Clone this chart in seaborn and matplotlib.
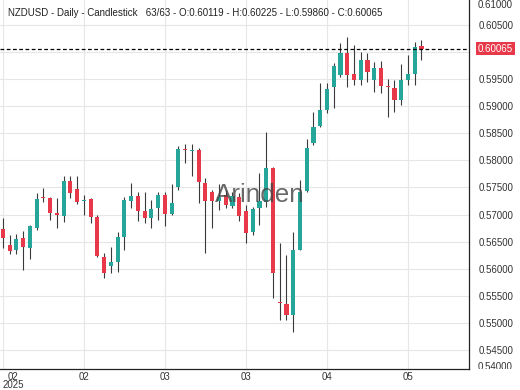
import numpy as np
import pandas as pd
import seaborn as sns
import matplotlib.pyplot as plt
from matplotlib.transforms import Bbox, TransformedBbox, ScaledTranslation

# OHLC values (63 daily candles)
opens = [0.56728, 0.56438, 0.56346, 0.56562, 0.56377, 0.56747, 0.57319, 0.57300, 0.57035, 0.56979,
         0.57625, 0.57467, 0.57251, 0.57282, 0.56961, 0.56222, 0.56051, 0.56119, 0.56592, 0.57256,
         0.57343, 0.57066, 0.56942, 0.57116, 0.57361, 0.57011, 0.57503, 0.58201, 0.58174, 0.58192,
         0.57583, 0.57422, 0.57251, 0.57361, 0.57158, 0.57330, 0.57066, 0.56684, 0.57116, 0.57238,
         0.57854, 0.55386, 0.55344, 0.55146, 0.56355, 0.57435, 0.58316, 0.58644, 0.58930, 0.59349,
         0.59577, 0.59988, 0.59589, 0.59484, 0.59853, 0.59484, 0.59700, 0.59368, 0.59342, 0.59115,
         0.59484, 0.59589, 0.60119]
highs = [0.56931, 0.56623, 0.56641, 0.56702, 0.56808, 0.57393, 0.57485, 0.57319, 0.57311, 0.57712,
         0.57712, 0.57712, 0.57361, 0.57300, 0.56992, 0.56291, 0.56396, 0.56673, 0.57330, 0.57577,
         0.57411, 0.57422, 0.57269, 0.57422, 0.57422, 0.57559, 0.58271, 0.58297, 0.58297, 0.58223,
         0.57670, 0.57454, 0.57559, 0.57454, 0.57422, 0.57393, 0.57177, 0.57145, 0.57762, 0.58530,
         0.57884, 0.56470, 0.56254, 0.56678, 0.57647, 0.58395, 0.58899, 0.59423, 0.59423, 0.59792,
         0.60173, 0.60272, 0.60130, 0.60007, 0.59988, 0.59822, 0.59840, 0.59497, 0.59484, 0.59774,
         0.59946, 0.60191, 0.60225]
lows = [0.56377, 0.56272, 0.56267, 0.55977, 0.56180, 0.56715, 0.57238, 0.56900, 0.56747, 0.56868,
        0.57300, 0.57195, 0.56992, 0.56839, 0.56211, 0.55835, 0.55916, 0.55934, 0.56346, 0.57127,
        0.56881, 0.56839, 0.56747, 0.56900, 0.56795, 0.57000, 0.57454, 0.57947, 0.57718, 0.57208,
        0.56285, 0.56758, 0.57084, 0.57116, 0.57116, 0.56881, 0.56470, 0.56623, 0.56808, 0.57145,
        0.55466, 0.55054, 0.55054, 0.54838, 0.56346, 0.57422, 0.58284, 0.58622, 0.58870, 0.58962,
        0.59545, 0.59349, 0.59392, 0.59392, 0.59453, 0.59268, 0.59239, 0.58796, 0.58899, 0.59023,
        0.59392, 0.59392, 0.59860]
closes = [0.56562, 0.56333, 0.56549, 0.56407, 0.56789, 0.57288, 0.57306, 0.57035, 0.56992, 0.57625,
          0.57393, 0.57238, 0.57278, 0.56950, 0.56235, 0.55916, 0.56119, 0.56592, 0.57269, 0.57343,
          0.57072, 0.56942, 0.57103, 0.57361, 0.57011, 0.57208, 0.58210, 0.58183, 0.58186, 0.57596,
          0.57251, 0.57251, 0.57330, 0.57177, 0.57348, 0.56979, 0.56665, 0.57097, 0.57251, 0.57854,
          0.55927, 0.55362, 0.55146, 0.56346, 0.57422, 0.58223, 0.58622, 0.58930, 0.59313, 0.59743,
          0.59988, 0.59577, 0.59484, 0.59853, 0.59626, 0.59700, 0.59373, 0.59355, 0.59115, 0.59484,
          0.59589, 0.60099, 0.60065]

x_tick_pos = [0, 12, 24, 36, 48, 60]
x_tick_labels = ["02\n2025", "02", "03", "03", "04", "05"]
y_ticks = [0.545, 0.550, 0.555, 0.560, 0.565, 0.570, 0.575, 0.580, 0.585, 0.590, 0.595, 0.600, 0.605]
last_price = 0.60065
title = "NZDUSD - Daily - Candlestick   63/63 - O:0.60119 - H:0.60225 - L:0.59860 - C:0.60065"

df = pd.DataFrame({"open": opens, "high": highs, "low": lows, "close": closes})
df["idx"] = np.arange(len(df))
up = df["close"] >= df["open"]

green = "#26a69a"
red = "#e8394b"

sns.set_theme(style="white")
plt.rcParams["font.family"] = ["Liberation Sans", "DejaVu Sans"]

fig = plt.figure(figsize=(5.2, 3.9), dpi=100)
ax = fig.add_axes([0, 21 / 390, 469 / 520, 369 / 390])

# wicks
ax.vlines(df["idx"], df["low"], df["high"], color="#3a3a3a", linewidth=0.8, zorder=2)
# bodies
body_bottom = df[["open", "close"]].min(axis=1)
body_h = (df["close"] - df["open"]).abs().clip(lower=0.00025)
colors = np.where(up, green, red)
ax.bar(df["idx"], body_h, bottom=body_bottom, width=0.6, color=colors, linewidth=0, zorder=3)

ax.axhline(last_price, color="black", linewidth=0.9, linestyle=(0, (3, 2)), zorder=4)

ax.set_xlim(-0.44, 69.04)
ax.set_ylim(0.54149, 0.60961)
ax.set_xticks(x_tick_pos)
ax.set_xticklabels(x_tick_labels, fontsize=7, color="#333333", linespacing=0.78)
ax.yaxis.tick_right()
ax.set_yticks(y_ticks)
# the 0.60000 label is hidden behind the last-price tag
ax.set_yticklabels(["" if abs(v - 0.600) < 1e-9 else f"{v:.5f}" for v in y_ticks],
                   fontsize=7, color="#333333")
ax.tick_params(axis="both", length=0)
ax.tick_params(axis="y", pad=7)
ax.tick_params(axis="x", pad=2)
first = ax.get_xticklabels()[0]
first.set_transform(first.get_transform() + ScaledTranslation(10 / 100, 0, fig.dpi_scale_trans))

ax.grid(True, color="#e6e6e6", linewidth=0.8)
for s in ["left", "top"]:
    ax.spines[s].set_visible(False)
for s in ["right", "bottom"]:
    ax.spines[s].set_color("#222222")
    ax.spines[s].set_linewidth(0.9)

# clamped edge labels
clip = TransformedBbox(Bbox([[1.0, 0.0], [1.2, 1.0]]), ax.transAxes)
t1 = ax.text(1.019, 1 - 4.5 / 369, "0.61000", transform=ax.transAxes, fontsize=7,
             color="#333333", va="center", ha="left", clip_on=True)
t1.set_clip_box(clip)
t2 = ax.text(1.019, 1.5 / 369, "0.54000", transform=ax.transAxes, fontsize=7,
             color="#333333", va="center", ha="left", clip_on=True)
t2.set_clip_box(clip)

# last price tag
ax.text(1.019, last_price, "0.60065", transform=ax.get_yaxis_transform(), fontsize=7,
        color="white", va="center", ha="left",
        bbox=dict(boxstyle="square,pad=0.2", facecolor=red, edgecolor="none"))

ax.text(8 / 469, 1 - 12.5 / 369, title, transform=ax.transAxes, fontsize=7,
        color="#222222", va="center", ha="left")

ax.text(260 / 469, (369 - 202) / 369, "Arinden", transform=ax.transAxes, fontsize=18.7,
        color="#444444", alpha=0.8, ha="center", va="baseline", zorder=5)

fig.savefig("out.png", dpi=100)
